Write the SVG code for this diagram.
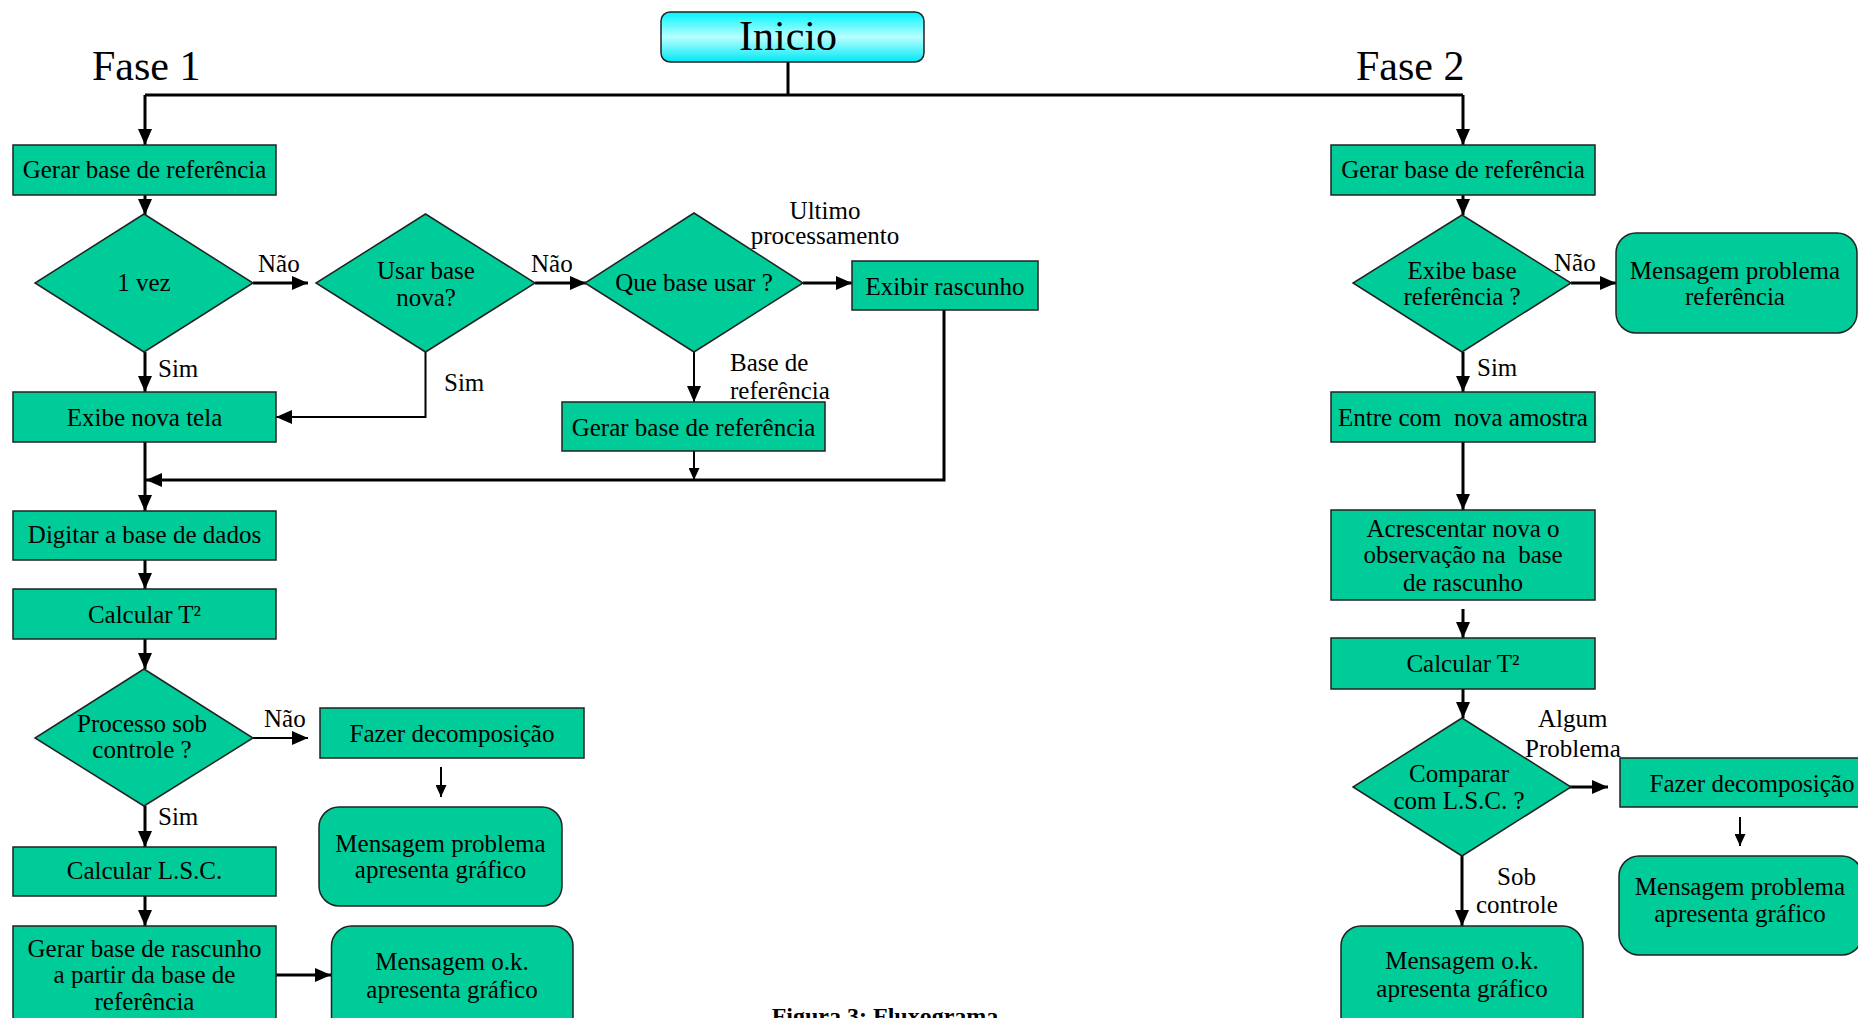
<svg xmlns="http://www.w3.org/2000/svg" width="1858" height="1018" viewBox="0 0 1858 1018">
<style>
text{font-family:"Liberation Serif","Times New Roman",serif;fill:#000;white-space:pre}
.t{font-size:25px;text-anchor:middle}
.l{font-size:25px}
.big{font-size:42px}
.cap{font-size:24px;font-weight:bold;text-anchor:middle}
.box{fill:#00CC99;stroke:#222;stroke-width:1.5}
.c{fill:none;stroke:#000;stroke-width:3}
.c2{fill:none;stroke:#000;stroke-width:2}
</style>
<defs>
<linearGradient id="cy" x1="0" y1="0" x2="0" y2="1">
<stop offset="0" stop-color="#00F4FF"/>
<stop offset="0.5" stop-color="#B8FFFF"/>
<stop offset="1" stop-color="#00E8F4"/>
</linearGradient>
<marker id="ah" markerUnits="userSpaceOnUse" markerWidth="16" markerHeight="14" refX="16" refY="7" orient="auto"><path d="M0,0 L16,7 L0,14 z" fill="#000"/></marker>
<marker id="as" markerUnits="userSpaceOnUse" markerWidth="12" markerHeight="11" refX="12" refY="5.5" orient="auto"><path d="M0,0 L12,5.5 L0,11 z" fill="#000"/></marker>
</defs>

<g id="connectors">
<path class="c" d="M788,47 V95"/>
<path class="c" d="M145,95 H1463"/>
<path class="c" d="M145,95 V145" marker-end="url(#ah)"/>
<path class="c" d="M1463,95 V145" marker-end="url(#ah)"/>
<path class="c" d="M145,195 V215" marker-end="url(#ah)"/>
<path class="c" d="M253,283 H308" marker-end="url(#ah)"/>
<path class="c" d="M535,283 H586" marker-end="url(#ah)"/>
<path class="c" d="M803,283 H852" marker-end="url(#ah)"/>
<path class="c" d="M145,352 V392" marker-end="url(#ah)"/>
<path class="c2" d="M425.5,352 V417 H276" marker-end="url(#ah)"/>
<path class="c2" d="M694,352 V402" marker-end="url(#ah)"/>
<path class="c2" d="M694,451 V480" marker-end="url(#as)"/>
<path class="c" d="M944,310 V480 H146" marker-end="url(#ah)"/>
<path class="c" d="M145,442 V511" marker-end="url(#ah)"/>
<path class="c" d="M145,560 V589" marker-end="url(#ah)"/>
<path class="c" d="M145,639 V669" marker-end="url(#ah)"/>
<path class="c2" d="M253,738 H308" marker-end="url(#ah)"/>
<path class="c2" d="M441,767 V797" marker-end="url(#as)"/>
<path class="c" d="M145,806 V847" marker-end="url(#ah)"/>
<path class="c" d="M145,896 V926" marker-end="url(#ah)"/>
<path class="c" d="M276,975 H331" marker-end="url(#ah)"/>
<path class="c" d="M1463,195 V215" marker-end="url(#ah)"/>
<path class="c" d="M1571,283 H1616" marker-end="url(#ah)"/>
<path class="c" d="M1463,352 V392" marker-end="url(#ah)"/>
<path class="c" d="M1463,442 V510" marker-end="url(#ah)"/>
<path class="c" d="M1463,609 V638" marker-end="url(#ah)"/>
<path class="c" d="M1463,689 V718" marker-end="url(#ah)"/>
<path class="c" d="M1553,787 H1608" marker-end="url(#ah)"/>
<path class="c2" d="M1740,817 V846" marker-end="url(#as)"/>
<path class="c" d="M1462,847 V926" marker-end="url(#ah)"/>
</g>

<g id="labels">
<text class="big" x="92" y="80">Fase 1</text>
<text class="big" x="1356" y="80">Fase 2</text>
<text class="l" x="258" y="272">Não</text>
<text class="l" x="158" y="377">Sim</text>
<text class="l" x="531" y="272">Não</text>
<text class="l" x="444" y="391">Sim</text>
<text class="t" x="825" y="219">Ultimo</text>
<text class="t" x="825" y="244">processamento</text>
<text class="l" x="730" y="371">Base de</text>
<text class="l" x="730" y="399">referência</text>
<text class="l" x="264" y="727">Não</text>
<text class="l" x="158" y="825">Sim</text>
<text class="l" x="1554" y="271">Não</text>
<text class="l" x="1477" y="376">Sim</text>
<text class="l" x="1538" y="727">Algum</text>
<text class="l" x="1525" y="757">Problema</text>
<text class="l" x="1497" y="885">Sob</text>
<text class="l" x="1476" y="913">controle</text>
<text class="cap" x="885" y="1024">Figura 3: Fluxograma</text>
</g>

<g id="n-inicio"><rect x="661" y="12" width="263" height="50" rx="9" fill="url(#cy)" stroke="#222" stroke-width="1.5"/><text class="big" x="788" y="50" text-anchor="middle">Inicio</text></g>

<g id="n-gerar1"><rect class="box" x="13" y="145" width="263" height="50"/><text class="t" x="144.5" y="178">Gerar base de referência</text></g>
<g id="n-1vez"><path class="box" d="M144,214 L253,283 L144,352 L35,283 z"/><text class="t" x="144" y="291">1 vez</text></g>
<g id="n-usar"><path class="box" d="M425.5,214 L535,283 L425.5,352 L316,283 z"/><text class="t" x="426" y="279">Usar base</text><text class="t" x="426" y="306">nova?</text></g>
<g id="n-que"><path class="box" d="M694,213 L803,283 L694,352 L585,283 z"/><text class="t" x="694" y="291">Que base usar ?</text></g>
<g id="n-exibir"><rect class="box" x="852" y="261" width="186" height="49"/><text class="t" x="945" y="295">Exibir rascunho</text></g>
<g id="n-exibenova"><rect class="box" x="13" y="392" width="263" height="50"/><text class="t" x="144.5" y="426">Exibe nova tela</text></g>
<g id="n-gerar2"><rect class="box" x="562" y="402" width="263" height="49"/><text class="t" x="693.5" y="436">Gerar base de referência</text></g>
<g id="n-digitar"><rect class="box" x="13" y="511" width="263" height="49"/><text class="t" x="144.5" y="543">Digitar a base de dados</text></g>
<g id="n-calc1"><rect class="box" x="13" y="589" width="263" height="50"/><text class="t" x="144.5" y="623">Calcular T²</text></g>
<g id="n-processo"><path class="box" d="M144,669 L253,738 L144,806 L35,738 z"/><text class="t" x="142" y="732">Processo sob</text><text class="t" x="142" y="758">controle ?</text></g>
<g id="n-fazer1"><rect class="box" x="320" y="708" width="264" height="50"/><text class="t" x="452" y="742">Fazer decomposição</text></g>
<g id="n-msgprob1"><rect class="box" x="319" y="807" width="243" height="99" rx="20"/><text class="t" x="440.5" y="852">Mensagem problema</text><text class="t" x="440.5" y="878">apresenta gráfico</text></g>
<g id="n-lsc"><rect class="box" x="13" y="847" width="263" height="49"/><text class="t" x="144.5" y="879">Calcular L.S.C.</text></g>
<g id="n-rascunho"><rect class="box" x="13" y="926" width="263" height="110"/><text class="t" x="144.5" y="957">Gerar base de rascunho</text><text class="t" x="144.5" y="983">a partir da base de</text><text class="t" x="144.5" y="1010">referência</text></g>
<g id="n-msgok1"><rect class="box" x="331.5" y="926" width="241.5" height="110" rx="20"/><text class="t" x="452" y="970">Mensagem o.k.</text><text class="t" x="452" y="998">apresenta gráfico</text></g>

<g id="n-gerar3"><rect class="box" x="1331" y="145" width="264" height="50"/><text class="t" x="1463" y="178">Gerar base de referência</text></g>
<g id="n-exibebase"><path class="box" d="M1462,215 L1571,283 L1462,352 L1353,283 z"/><text class="t" x="1462" y="279">Exibe base</text><text class="t" x="1462" y="305">referência ?</text></g>
<g id="n-msgref"><rect class="box" x="1616" y="233" width="241" height="100" rx="20"/><text class="t" x="1735" y="279">Mensagem problema</text><text class="t" x="1735" y="305">referência</text></g>
<g id="n-entre"><rect class="box" x="1331" y="392" width="264" height="50"/><text class="t" x="1463" y="426">Entre com  nova amostra</text></g>
<g id="n-acresc"><rect class="box" x="1331" y="510" width="264" height="90"/><text class="t" x="1463" y="537">Acrescentar nova o</text><text class="t" x="1463" y="563">observação na  base</text><text class="t" x="1463" y="591">de rascunho</text></g>
<g id="n-calc2"><rect class="box" x="1331" y="638" width="264" height="51"/><text class="t" x="1463" y="672">Calcular T²</text></g>
<g id="n-comparar"><path class="box" d="M1462,718 L1571,787 L1462,856 L1353,787 z"/><text class="t" x="1459" y="782">Comparar</text><text class="t" x="1459" y="809">com L.S.C. ?</text></g>
<g id="n-fazer2"><rect class="box" x="1620" y="758" width="264" height="49"/><text class="t" x="1752" y="792">Fazer decomposição</text></g>
<g id="n-msgprob2"><rect class="box" x="1619" y="856" width="243" height="99" rx="20"/><text class="t" x="1740" y="895">Mensagem problema</text><text class="t" x="1740" y="922">apresenta gráfico</text></g>
<g id="n-msgok2"><rect class="box" x="1341" y="926" width="242" height="110" rx="20"/><text class="t" x="1462" y="969">Mensagem o.k.</text><text class="t" x="1462" y="997">apresenta gráfico</text></g>
</svg>
